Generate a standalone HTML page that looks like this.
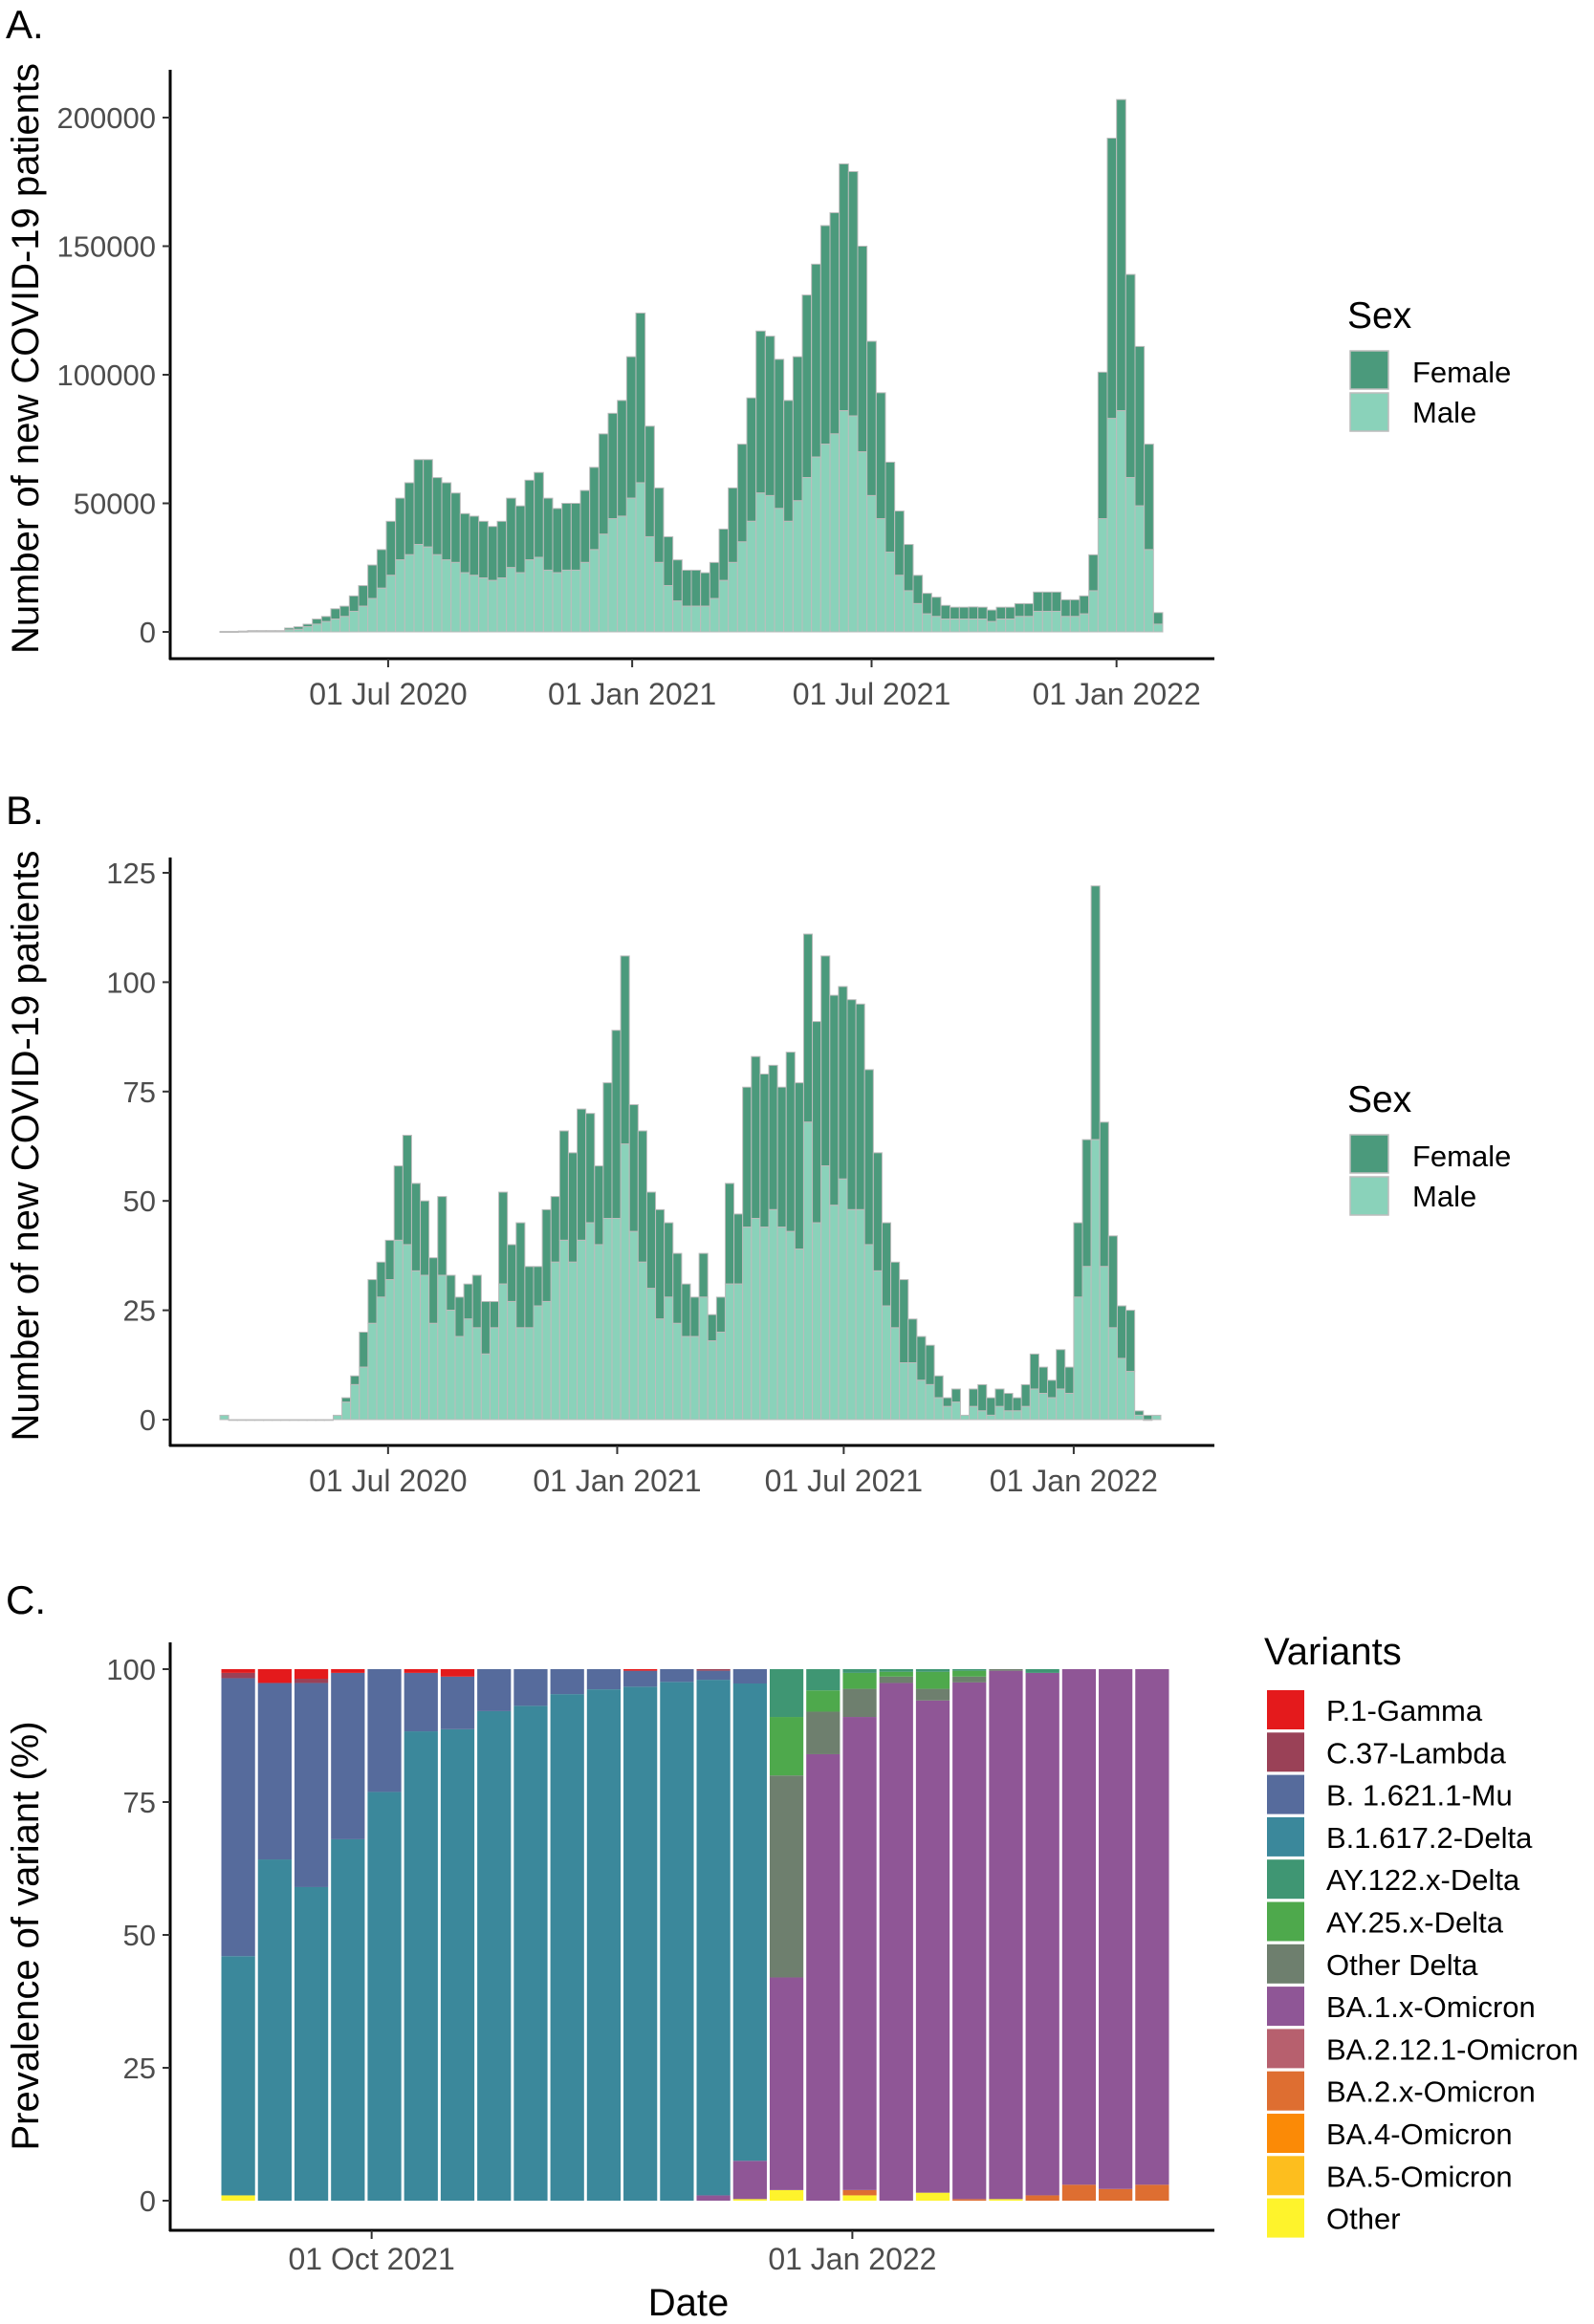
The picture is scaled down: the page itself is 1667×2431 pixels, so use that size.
<!DOCTYPE html>
<html><head><meta charset="utf-8"><style>
html,body{margin:0;padding:0;background:#fff;}
svg{display:block;font-family:"Liberation Sans",Arial,sans-serif;}
</style></head><body>
<svg id="fig" width="1667" height="2431" viewBox="0 0 1667 2431" xmlns="http://www.w3.org/2000/svg">
<rect width="1667" height="2431" fill="#fff"/>
<g id="pa"></g>
<g id="pb"></g>
<g id="pc"></g>
</svg>
<script>
// ---------- Panel A data (thousands, weekly) ----------
const aTotal = [0.2,0.2,0.3,0.5,0.5,0.5,0.5,
1.5,2,3,5,6,9,10,14,18,26,
32,43,52,58,67,67,60,58,54,46,
45,43,41,43,52,49,59,62,52,48,
50,50,55,64,77,85,90,107,124,80,
56,37,28,24,24,23,27,40,56,73,
91,117,115,106,90,107,131,143,158,163,
182,179,150,113,93,66,47,34,22,15,
13.5,10.3,9.6,9.6,9.7,9.6,8.5,9.6,9.6,11,
11,15.5,15.5,15.5,12.5,12.5,14,30,101,192,
207,139,111,73,7.5];
const aMale = [0.1,0.1,0.2,0.3,0.3,0.3,0.3,
0.8,1,2,3,4,5,6,8,10,13,
17,22,28,30,34,33,30,28,27,23,
22,21,20,21,25,23,28,29,24,23,
24,24,27,32,38,44,45,52,58,37,
27,18,12,10,10,10,13,20,27,35,
43,54,53,48,43,51,60,68,73,77,
86,84,70,53,44,31,22,16,11,7,
6,5,5,5,5,5,4,5,5,6,
6,8,8,8,6,6,7,16,44,83,
86,60,49,32,3];
const aTicks = [0,50000,100000,150000,200000];
const aDateLabels = ["01 Jul 2020","01 Jan 2021","01 Jul 2021","01 Jan 2022"];
const aDateIdx = [18.2,44.6,70.5,97.0];

// ---------- Panel B data (weekly counts) ----------
const bTotal = [1,0,0,0,0,0,0,0,0,0,0,0,0,
1,5,10,20,32,36,41,58,65,54,
50,37,51,33,28,31,33,27,27,52,
40,45,35,35,48,51,66,61,71,70,
58,77,89,106,72,66,52,48,45,38,
31,28,38,24,28,54,47,76,83,79,
81,76,84,77,111,91,106,97,99,96,
95,80,61,45,36,32,23,19,17,10,
5,7,1,7,8,5,7,6,5,8,
15,12,9,16,12,45,64,122,68,42,
26,25,2,1,1];
const bMale = [1,0,0,0,0,0,0,0,0,0,0,0,0,
1,4,8,12,22,28,32,41,40,34,
33,22,33,25,19,23,21,15,21,31,
27,21,21,26,27,36,41,36,41,45,
40,46,46,63,43,36,30,23,28,22,
19,19,28,18,20,31,31,44,46,44,
48,44,43,39,68,45,58,49,55,48,
48,40,34,26,21,13,13,9,8,5,
3,4,1,3,2,1,3,2,2,3,
7,6,5,7,6,28,35,64,35,21,
14,11,1,0,1];
const bTicks = [0,25,50,75,100,125];
const bDateLabels = ["01 Jul 2020","01 Jan 2021","01 Jul 2021","01 Jan 2022"];
const bDateIdx = [19.3,45.6,71.6,98.0];

// ---------- Panel C data (% per week) ----------
const cVariants = ["P.1-Gamma","C.37-Lambda","B. 1.621.1-Mu","B.1.617.2-Delta","AY.122.x-Delta","AY.25.x-Delta","Other Delta","BA.1.x-Omicron","BA.2.12.1-Omicron","BA.2.x-Omicron","BA.4-Omicron","BA.5-Omicron","Other"];
const cColors = ["#e41a1c","#9a4157","#566b9c","#3b889b","#3f9673","#4ea94c","#6e7f6e","#8f5696","#b7606e","#de6e31","#fb8a06","#fdbe1e","#fef32c"];
const cGamma  = [0.7,2.6,1.8,0.7,0,0.7,1.4,0,0,0,0,0.3,0,0,0,0,0,0,0,0,0,0,0,0,0,0];
const cLambda = [1,0,0.8,0,0,0,0,0,0,0,0,0,0,0.3,0,0,0,0,0,0,0,0,0,0,0,0];
const cMu     = [52.3,33.2,38.4,31.3,23.1,11,9.9,7.9,6.9,4.7,3.8,3,2.4,1.7,2.7,0,0,0,0,0,0,0,0,0,0,0];
const cDelta  = [45,64.2,59,68,76.9,88.3,88.7,92.1,93.1,95.3,96.2,96.7,97.6,97,89.8,0,0,0,0,0,0,0,0,0,0,0];
const cAY122  = [0,0,0,0,0,0,0,0,0,0,0,0,0,0,0,9,4,0.7,0.5,0.5,0.3,0,0.7,0,0,0];
const cAY25   = [0,0,0,0,0,0,0,0,0,0,0,0,0,0,0,11,4,3,0.9,3.2,1.1,0,0,0,0,0];
const cOtherD = [0,0,0,0,0,0,0,0,0,0,0,0,0,0,0,38,8,5.3,1.2,2.2,1.1,0.3,0,0,0,0];
const cBA1    = [0,0,0,0,0,0,0,0,0,0,0,0,0,1,7.2,40,84,89,97.4,92.6,97.2,99.4,98.3,97,97.8,97];
const cBA212  = [0,0,0,0,0,0,0,0,0,0,0,0,0,0,0,0,0,0,0,0,0,0,0,0,0,0];
const cBA2    = [0,0,0,0,0,0,0,0,0,0,0,0,0,0,0,0,0,1,0,0,0.3,0,1,3,2.2,3];
const cBA4    = [0,0,0,0,0,0,0,0,0,0,0,0,0,0,0,0,0,0,0,0,0,0,0,0,0,0];
const cBA5    = [0,0,0,0,0,0,0,0,0,0,0,0,0,0,0,0,0,0,0,0,0,0,0,0,0,0];
const cOther  = [1,0,0,0,0,0,0,0,0,0,0,0,0,0,0.3,2,0,1,0,1.5,0,0.3,0,0,0,0];
const cTicks = [0,25,50,75,100];
const cDateLabels = ["01 Oct 2021","01 Jan 2022"];
const cDateIdx = [4.15,17.3];

const NS="http://www.w3.org/2000/svg";
function mk(parent,tag,attrs,text){
  const e=document.createElementNS(NS,tag);
  for(const k in attrs) e.setAttribute(k,attrs[k]);
  if(text!==undefined) e.textContent=text;
  parent.appendChild(e); return e;
}
const FEMALE="#4b9a7c", MALE="#8ad2ba", EDGE="#bcbcbc";

function axes(g,top,bottom,ticks,yScale,fmt,dateLabels,dateX,xLabelY){
  const yl=mk(g,'line',{x1:178,y1:top,x2:178,y2:bottom+1,stroke:'#000','stroke-width':3});
  
  
  const xl=mk(g,'line',{x1:177,y1:bottom,x2:1270,y2:bottom,stroke:'#000','stroke-width':3});
  
  
  ticks.forEach(v=>{
    const y=yScale(v);
    const t=mk(g,'line',{x1:170,y1:y,x2:178,y2:y,stroke:'#333','stroke-width':2});
    
    
    const l=mk(g,'text',{x:163,y:y+11,'text-anchor':'end','font-size':31,fill:'#4d4d4d'},fmt(v));
    
    
  });
  dateLabels.forEach((s,i)=>{
    const x=dateX(i);
    const t=mk(g,'line',{x1:x,y1:bottom,x2:x,y2:bottom+9,stroke:'#333','stroke-width':2});
    
    
    const l=mk(g,'text',{x:x,y:xLabelY,'text-anchor':'middle','font-size':32,fill:'#4d4d4d'},s);
    
    
  });
}
function sexLegend(g,y0){
  const t=mk(g,'text',{x:1409,y:y0,'font-size':39,fill:'#000'},'Sex');
  
  
  [['Female',FEMALE],['Male',MALE]].forEach((d,i)=>{
    const r=mk(g,'rect',{x:1412,y:y0+24+i*44,width:40,height:40,fill:d[1],stroke:EDGE,'stroke-width':1.5});
    
    
    const l=mk(g,'text',{x:1477,y:y0+57+i*42,'font-size':31,fill:'#000'},d[0]);
    
    
  });
}
function panelLabel(g,s,y){
  const t=mk(g,'text',{x:6,y:y,'font-size':42,fill:'#000'},s);
  
  
}
function yTitle(g,s,cy){
  const t=mk(g,'text',{x:0,y:0,'text-anchor':'middle','font-size':40,fill:'#000',transform:'translate(40,'+cy+') rotate(-90)'},s);
  
  
}

function sexPanel(g,total,male,mult,y0,yTop,ticks,fmt,dLabels,dIdx,xLabY,axTop,axBot,legY,lab,labY,title,span){
  const n=total.length, x0=230, bw=span/n;
  const ys=v=>y0-(v-0)*(y0-yTop)/ticks[ticks.length-1];
  const xs=i=>x0+i*bw;
  panelLabel(g,lab,labY);
  yTitle(g,title,(axTop+axBot)/2-6);
  for(let i=0;i<n;i++){
    const tv=total[i]*mult, mv=male[i]*mult;
    const yT=ys(tv), yM=ys(mv);
    const f=mk(g,'rect',{x:xs(i),y:yT,width:bw,height:Math.max(yM-yT,0),fill:FEMALE,stroke:EDGE,'stroke-width':1});
    
    
    const m=mk(g,'rect',{x:xs(i),y:yM,width:bw,height:Math.max(y0-yM,0.8),fill:(tv===0?'#aaa':MALE),stroke:EDGE,'stroke-width':1});
    
    
  }
  axes(g,axTop,axBot,ticks,ys,fmt,dLabels,i=>xs(dIdx[i]),xLabY);
  sexLegend(g,legY);
}

sexPanel(document.getElementById('pa'),aTotal,aMale,1000,661,123,aTicks,v=>String(v),aDateLabels,aDateIdx,737,73,689,343,'A.',40,'Number of new COVID-19 patients',986);
sexPanel(document.getElementById('pb'),bTotal,bMale,1,1485,913,bTicks,v=>String(v),bDateLabels,bDateIdx,1560,897,1512,1163,'B.',862,'Number of new COVID-19 patients',984);

// ---------- Panel C ----------
(function(){
  const g=document.getElementById('pc');
  const rows=[cGamma,cLambda,cMu,cDelta,cAY122,cAY25,cOtherD,cBA1,cBA212,cBA2,cBA4,cBA5,cOther];
  const n=cGamma.length, x0=230, step=994/n, y0=2302, y100=1746;
  const ys=v=>y0-v*(y0-y100)/100;
  const xs=i=>x0+i*step;
  panelLabel(g,'C.',1688);
  yTitle(g,'Prevalence of variant (%)',2025);
  for(let i=0;i<n;i++){
    let cum=0;
    for(let k=rows.length-1;k>=0;k--){
      const v=rows[k][i]; if(v<=0) continue;
      const r=mk(g,'rect',{x:xs(i)+1.5,y:ys(cum+v),width:step-3,height:ys(cum)-ys(cum+v),fill:cColors[k]});
      
      
      cum+=v;
    }
  }
  axes(g,1718,2333,cTicks,ys,v=>String(v),cDateLabels,i=>xs(cDateIdx[i]),2374);
  const dt=mk(g,'text',{x:720,y:2422,'text-anchor':'middle','font-size':40,fill:'#000'},'Date');
  
  
  const lt=mk(g,'text',{x:1322,y:1741,'font-size':40,fill:'#000'},'Variants');
  
  
  cVariants.forEach((s,k)=>{
    const y=1768+k*44.3;
    const r=mk(g,'rect',{x:1325,y:y,width:39,height:41,fill:cColors[k]});
    
    
    const l=mk(g,'text',{x:1387,y:y+32,'font-size':31,fill:'#000'},s);
    
    
  });
})();
</script>
</body></html>
